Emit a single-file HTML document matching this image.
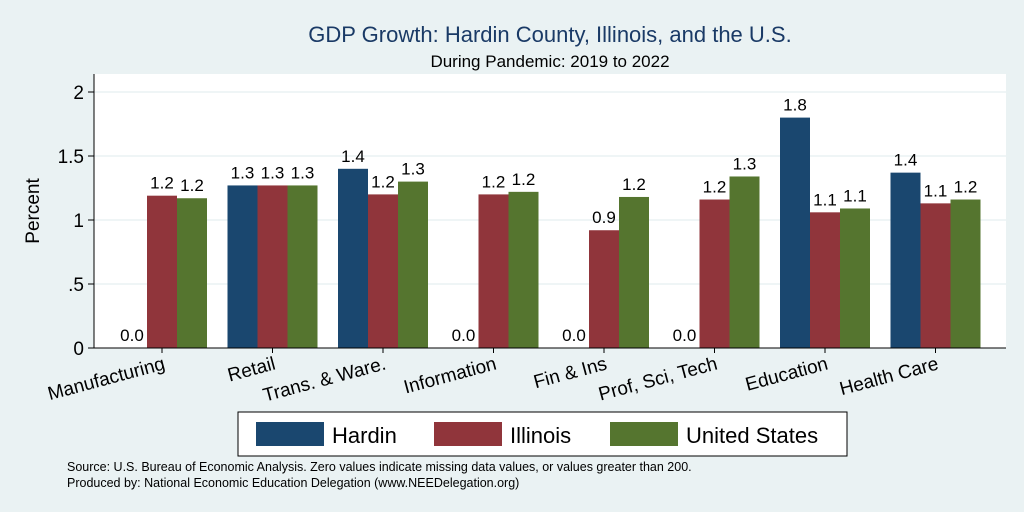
<!DOCTYPE html>
<html><head><meta charset="utf-8">
<style>
html,body{margin:0;padding:0;background:#eaf2f3;}
svg{display:block;font-family:"Liberation Sans",Arial,sans-serif;}
</style></head>
<body>
<svg id="chart" width="1024" height="512" viewBox="0 0 1024 512">
<rect x="0" y="0" width="1024" height="512" fill="#eaf2f3"/>
<rect x="94" y="74" width="912" height="274" fill="#ffffff"/>
<text x="550" y="42" text-anchor="middle" font-size="22" fill="#1a3a66">GDP Growth: Hardin County, Illinois, and the U.S.</text>
<text x="550" y="67" text-anchor="middle" font-size="17" fill="#000">During Pandemic: 2019 to 2022</text>
<text transform="translate(39,211) rotate(-90)" text-anchor="middle" font-size="19" fill="#000">Percent</text>
<g id="grid"></g>
<g id="bars"></g>
<line x1="94" y1="74" x2="94" y2="348" stroke="#000" stroke-width="1"/>
<line x1="94" y1="348" x2="1006" y2="348" stroke="#000" stroke-width="1"/>
<g>
<rect x="238" y="412" width="609" height="44" fill="#fff" stroke="#000" stroke-width="1"/>
<rect x="256" y="422" width="68" height="24" fill="#1a476f"/>
<text x="332" y="443" font-size="22">Hardin</text>
<rect x="434" y="422" width="68" height="24" fill="#90353b"/>
<text x="510" y="443" font-size="22">Illinois</text>
<rect x="610" y="422" width="68" height="24" fill="#55752f"/>
<text x="686" y="443" font-size="22">United States</text>
</g>
<text x="67" y="471" font-size="12.5">Source: U.S. Bureau of Economic Analysis. Zero values indicate missing data values, or values greater than 200.</text>
<text x="67" y="487" font-size="12.5">Produced by: National Economic Education Delegation (www.NEEDelegation.org)</text>
</svg>
<script>
const categories = ["Manufacturing","Retail","Trans. & Ware.","Information","Fin & Ins","Prof, Sci, Tech","Education","Health Care"];
const hardin = [0.0, 1.27, 1.40, 0.0, 0.0, 0.0, 1.80, 1.37];
const illinois = [1.19, 1.27, 1.20, 1.20, 0.92, 1.16, 1.06, 1.13];
const unitedStates = [1.17, 1.27, 1.30, 1.22, 1.18, 1.34, 1.09, 1.16];
const yTicks = [0, 0.5, 1, 1.5, 2];
const yTickLabels = ["0", ".5", "1", "1.5", "2"];

const NS = "http://www.w3.org/2000/svg";
const y = v => 348 - v * 128;
const groupCenter = i => 162 + i * 110.5;
const barW = 30;
const series = [
  {vals: hardin, color: "#1a476f", key: "hardin"},
  {vals: illinois, color: "#90353b", key: "illinois"},
  {vals: unitedStates, color: "#55752f", key: "us"}
];
function mk(tag, attrs, parent) {
  const e = document.createElementNS(NS, tag);
  for (const k in attrs) e.setAttribute(k, attrs[k]);
  parent.appendChild(e);
  return e;
}
const grid = document.getElementById("grid");
yTicks.forEach((t, i) => {
  if (t > 0) {
    const gl = mk("line", {x1: 94, x2: 1006, y1: y(t), y2: y(t), stroke: "#eaf2f3", "stroke-width": 1.5}, grid);
    
    
  }
  const tk = mk("line", {x1: 88, x2: 94, y1: y(t), y2: y(t), stroke: "#000"}, grid);
  
  
  const tl = mk("text", {x: 84, y: y(t) + 7, "text-anchor": "end", "font-size": 19}, grid);
  tl.textContent = yTickLabels[i];
  
  
});
const bars = document.getElementById("bars");
categories.forEach((c, i) => {
  const cx = groupCenter(i);
  series.forEach((s, j) => {
    const v = s.vals[i];
    const x0 = cx - 1.5 * barW + j * barW;
    const r = mk("rect", {x: x0, y: y(v), width: barW, height: 348 - y(v), fill: s.color}, bars);
    
    
    const lb = mk("text", {x: x0 + barW / 2, y: y(v) - 7, "text-anchor": "middle", "font-size": 17}, bars);
    lb.textContent = v.toFixed(1);
    
    
  });
  const xt = mk("line", {x1: cx, x2: cx, y1: 348, y2: 353, stroke: "#000"}, bars);
  
  
  const xl = mk("text", {transform: "translate(" + (cx + 4) + ",369) rotate(-15)", "text-anchor": "end", "font-size": 19}, bars);
  xl.textContent = c;
  
  
});
</script>
</body></html>
